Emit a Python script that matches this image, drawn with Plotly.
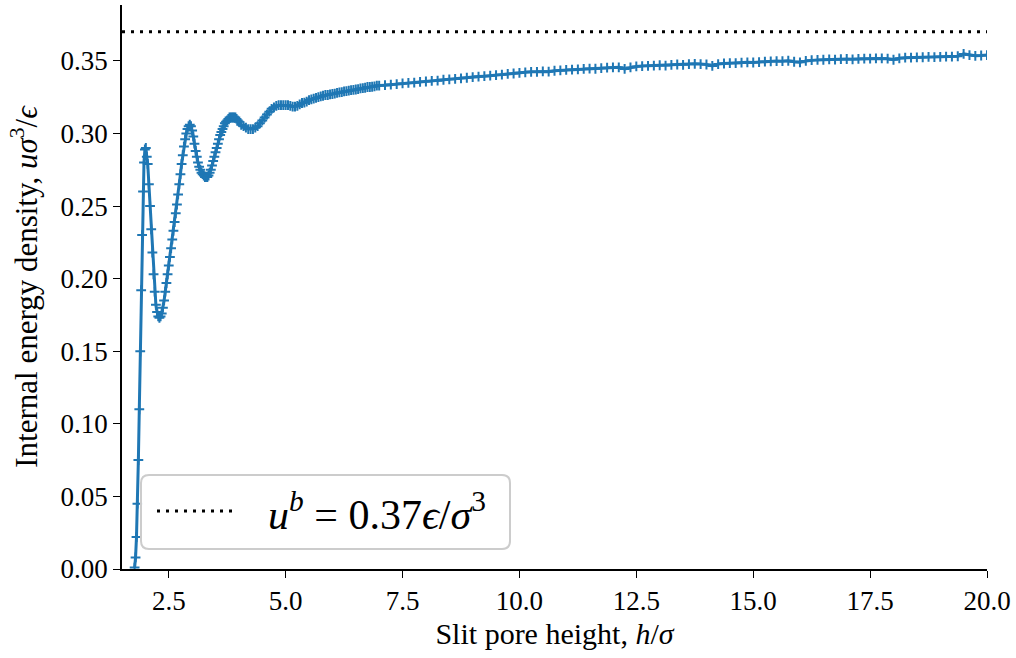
import numpy as np
import plotly.graph_objects as go

# ---------------- data ----------------
# initial steep rise, h = 1.77 ... 2.03 (step 0.02)
x_rise_start, x_rise_step = 1.77, 0.02
u_rise = [0.001, 0.008, 0.022, 0.045, 0.075, 0.110, 0.150, 0.192, 0.230,
          0.260, 0.280, 0.289, 0.290, 0.284]

# oscillating region, h = 2.05 ... (step 0.025)
x_osc_start, x_osc_step = 2.05, 0.025
u_osc = [0.279, 0.265, 0.250, 0.234, 0.218, 0.203, 0.191, 0.182, 0.177, 0.174,
         0.173, 0.174, 0.176, 0.180, 0.185, 0.191, 0.197, 0.203, 0.209, 0.215,
         0.221, 0.227, 0.233, 0.239, 0.245, 0.251, 0.258, 0.265, 0.272, 0.279,
         0.285, 0.291, 0.296, 0.300, 0.303, 0.305, 0.306, 0.305, 0.302, 0.298,
         0.293, 0.288, 0.284, 0.280, 0.277, 0.275, 0.273, 0.272, 0.271, 0.270,
         0.270, 0.270, 0.271, 0.273, 0.275, 0.278, 0.281, 0.284, 0.287, 0.290,
         0.293, 0.296, 0.299, 0.301, 0.303, 0.305, 0.307, 0.308, 0.309, 0.310,
         0.311, 0.311, 0.311, 0.311, 0.311, 0.311, 0.310, 0.309]

# h = 4.00 ... 7.00 (step 0.05)
x_mid_start, x_mid_step = 4.00, 0.05
u_mid = [0.308, 0.306, 0.305, 0.304, 0.303, 0.303, 0.303, 0.304, 0.305, 0.307,
         0.309, 0.311, 0.313, 0.315, 0.317, 0.318, 0.319, 0.3195, 0.3195, 0.3195,
         0.3195, 0.3195, 0.319, 0.3185, 0.3185, 0.319, 0.320, 0.321, 0.3212, 0.322,
         0.323, 0.3235, 0.324, 0.3245, 0.325, 0.3255, 0.326, 0.3265, 0.3265, 0.327,
         0.3272, 0.3275, 0.328, 0.3283, 0.3285, 0.329, 0.3292, 0.3295, 0.3298, 0.330,
         0.3303, 0.3305, 0.331, 0.3312, 0.3315, 0.332, 0.332, 0.3322, 0.3325, 0.333,
         0.333]

# h = 7.125 ... 20.0 (step 0.125)
x_far_start, x_far_step = 7.125, 0.125
u_far = [0.3333, 0.3337, 0.3340, 0.3345, 0.3348, 0.3350, 0.3355, 0.3358,
         0.3362, 0.3364, 0.3370, 0.3373, 0.3376, 0.3380, 0.3384, 0.3388,
         0.3392, 0.3395, 0.3398, 0.3402, 0.3405, 0.3410, 0.3413, 0.3418,
         0.3421, 0.3425, 0.3424, 0.3428, 0.3426, 0.3432, 0.3434, 0.3438,
         0.3440, 0.3441, 0.3445, 0.3447, 0.3446, 0.3450, 0.3453, 0.3455,
         0.3456, 0.3445, 0.3455, 0.3462, 0.3464, 0.3466, 0.3467, 0.3470,
         0.3468, 0.3472, 0.3475, 0.3473, 0.3478, 0.3480, 0.3478, 0.3475,
         0.3465, 0.3478, 0.3482, 0.3485, 0.3484, 0.3488, 0.3490, 0.3489,
         0.3492, 0.3495, 0.3497, 0.3499, 0.3498, 0.3501, 0.3494, 0.3490,
         0.3500, 0.3505, 0.3507, 0.3508, 0.3510, 0.3509, 0.3512, 0.3513,
         0.3511, 0.3514, 0.3516, 0.3515, 0.3517, 0.3518, 0.3515, 0.3508,
         0.3518, 0.3522, 0.3523, 0.3524, 0.3525, 0.3527, 0.3526, 0.3528,
         0.3529, 0.3530, 0.3532, 0.3548, 0.3540, 0.3535, 0.3537, 0.3540]

u_bulk = 0.37            # bulk internal energy density
x_ticks = [2.5, 5.0, 7.5, 10.0, 12.5, 15.0, 17.5, 20.0]
y_ticks = [0.00, 0.05, 0.10, 0.15, 0.20, 0.25, 0.30, 0.35]
x_range = [1.5, 20.0]
y_range = [0.0, 0.37 * 1.05]


def grid(start, step, n):
    return [round(start + step * i, 4) for i in range(n)]


h = (grid(x_rise_start, x_rise_step, len(u_rise))
     + grid(x_osc_start, x_osc_step, len(u_osc))
     + grid(x_mid_start, x_mid_step, len(u_mid))
     + grid(x_far_start, x_far_step, len(u_far)))
u = u_rise + u_osc + u_mid + u_far

# ---------------- figure ----------------
W, H = 1016, 658
L, R, T, B = 122, 29, 5, 89
PW, PH = W - L - R, H - T - B

BLUE = "#1f77b4"
FONT = "Liberation Serif"

fig = go.Figure()

fig.add_trace(go.Scatter(
    x=x_range, y=[u_bulk, u_bulk], mode="lines",
    line=dict(color="black", width=3, dash="3px,6px"),
    showlegend=False, hoverinfo="skip"))

fig.add_trace(go.Scatter(
    x=h, y=u, mode="lines+markers",
    line=dict(color=BLUE, width=3),
    marker=dict(symbol="cross-thin", size=7, color=BLUE,
                line=dict(color=BLUE, width=2)),
    showlegend=False))


def px2paper(px, py):
    return (px - L) / PW, (H - B - py) / PH


# manual legend (rounded box, dotted sample, label)
bx0, by0, bx1, by1, rad = 141, 475, 510, 549, 8
x0, y1 = px2paper(bx0, by0)
x1, y0 = px2paper(bx1, by1)
rx, ry = rad / PW, rad / PH
path = (f"M {x0+rx},{y1} L {x1-rx},{y1} Q {x1},{y1} {x1},{y1-ry} "
        f"L {x1},{y0+ry} Q {x1},{y0} {x1-rx},{y0} L {x0+rx},{y0} "
        f"Q {x0},{y0} {x0},{y0+ry} L {x0},{y1-ry} Q {x0},{y1} {x0+rx},{y1} Z")
fig.add_shape(type="path", path=path, xref="paper", yref="paper",
              line=dict(color="rgba(204,204,204,1)", width=2),
              fillcolor="rgba(255,255,255,0.85)", layer="above")
lx0, ly = px2paper(157, 511)
lx1, _ = px2paper(237, 511)
fig.add_shape(type="line", xref="paper", yref="paper", x0=lx0, x1=lx1,
              y0=ly, y1=ly, layer="above",
              line=dict(color="black", width=3, dash="3px,6px"))
tx, ty = px2paper(266, 511)
fig.add_annotation(xref="paper", yref="paper", x=tx, y=ty, xanchor="left",
                   yanchor="middle", showarrow=False,
                   text="<i>u</i><sup><i>b</i></sup> = 0.37<i>ϵ</i>/<i>σ</i><sup>3</sup>",
                   font=dict(family=FONT, size=42, color="black"))

axis_common = dict(showline=True, linecolor="black", linewidth=1.5,
                   ticks="outside", ticklen=7, tickwidth=1.4,
                   tickcolor="black", showgrid=False, zeroline=False,
                   tickfont=dict(family=FONT, size=27, color="black"),
                   mirror=False)

fig.update_layout(
    width=W, height=H,
    margin=dict(l=L, r=R, t=T, b=B),
    plot_bgcolor="white", paper_bgcolor="white",
    xaxis=dict(range=x_range, tickvals=x_ticks, tickformat=".1f",
               title=dict(text="Slit pore height, <i>h</i>/<i>σ</i>",
                          font=dict(family=FONT, size=30, color="black"),
                          standoff=8),
               **axis_common),
    yaxis=dict(range=y_range, tickvals=y_ticks, tickformat=".2f",
               title=dict(text="Internal energy density, <i>uσ</i><sup>3</sup>/<i>ϵ</i>",
                          font=dict(family=FONT, size=31, color="black"),
                          standoff=14),
               **axis_common),
)

fig.write_html("out.html",
               config={"displayModeBar": False},
               post_script="document.body.style.margin='0';")
